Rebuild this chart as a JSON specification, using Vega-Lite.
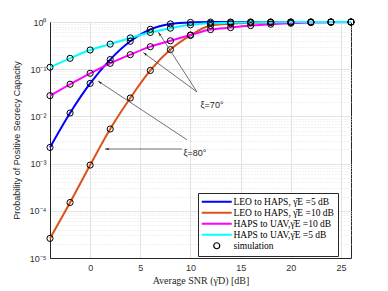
{
  "$schema": "https://vega.github.io/schema/vega-lite/v6.json",
  "width": 301,
  "height": 236,
  "autosize": "none",
  "padding": {"left": 50, "top": 22, "right": 37, "bottom": 33},
  "background": "white",
  "config": {
    "view": {"stroke": "#262626", "strokeWidth": 1},
    "font": "Liberation Sans"
  },
  "datasets": {
    "curves": [
      {"x": -4, "series": "LEO to HAPS, γ̄E =5 dB", "p": 0.0022},
      {"x": -2, "series": "LEO to HAPS, γ̄E =5 dB", "p": 0.0118},
      {"x": 0, "series": "LEO to HAPS, γ̄E =5 dB", "p": 0.05},
      {"x": 2, "series": "LEO to HAPS, γ̄E =5 dB", "p": 0.16},
      {"x": 4, "series": "LEO to HAPS, γ̄E =5 dB", "p": 0.39},
      {"x": 6, "series": "LEO to HAPS, γ̄E =5 dB", "p": 0.7},
      {"x": 8, "series": "LEO to HAPS, γ̄E =5 dB", "p": 0.91},
      {"x": 10, "series": "LEO to HAPS, γ̄E =5 dB", "p": 0.98},
      {"x": 12, "series": "LEO to HAPS, γ̄E =5 dB", "p": 0.995},
      {"x": 14, "series": "LEO to HAPS, γ̄E =5 dB", "p": 0.998},
      {"x": 16, "series": "LEO to HAPS, γ̄E =5 dB", "p": 0.999},
      {"x": 18, "series": "LEO to HAPS, γ̄E =5 dB", "p": 1},
      {"x": 20, "series": "LEO to HAPS, γ̄E =5 dB", "p": 1},
      {"x": 22, "series": "LEO to HAPS, γ̄E =5 dB", "p": 1},
      {"x": 24, "series": "LEO to HAPS, γ̄E =5 dB", "p": 1},
      {"x": 26, "series": "LEO to HAPS, γ̄E =5 dB", "p": 1},
      {"x": -4, "series": "LEO to HAPS, γ̄E =10 dB", "p": 0.000026},
      {"x": -2, "series": "LEO to HAPS, γ̄E =10 dB", "p": 0.00015},
      {"x": 0, "series": "LEO to HAPS, γ̄E =10 dB", "p": 0.00093},
      {"x": 2, "series": "LEO to HAPS, γ̄E =10 dB", "p": 0.0054},
      {"x": 4, "series": "LEO to HAPS, γ̄E =10 dB", "p": 0.0245},
      {"x": 6, "series": "LEO to HAPS, γ̄E =10 dB", "p": 0.094},
      {"x": 8, "series": "LEO to HAPS, γ̄E =10 dB", "p": 0.26},
      {"x": 10, "series": "LEO to HAPS, γ̄E =10 dB", "p": 0.52},
      {"x": 12, "series": "LEO to HAPS, γ̄E =10 dB", "p": 0.84},
      {"x": 14, "series": "LEO to HAPS, γ̄E =10 dB", "p": 0.92},
      {"x": 16, "series": "LEO to HAPS, γ̄E =10 dB", "p": 0.96},
      {"x": 18, "series": "LEO to HAPS, γ̄E =10 dB", "p": 0.98},
      {"x": 20, "series": "LEO to HAPS, γ̄E =10 dB", "p": 0.99},
      {"x": 22, "series": "LEO to HAPS, γ̄E =10 dB", "p": 0.995},
      {"x": 24, "series": "LEO to HAPS, γ̄E =10 dB", "p": 0.998},
      {"x": 26, "series": "LEO to HAPS, γ̄E =10 dB", "p": 1},
      {"x": -4, "series": "HAPS to UAV,γ̄E =10 dB", "p": 0.0275},
      {"x": -2, "series": "HAPS to UAV,γ̄E =10 dB", "p": 0.048},
      {"x": 0, "series": "HAPS to UAV,γ̄E =10 dB", "p": 0.082},
      {"x": 2, "series": "HAPS to UAV,γ̄E =10 dB", "p": 0.133},
      {"x": 4, "series": "HAPS to UAV,γ̄E =10 dB", "p": 0.203},
      {"x": 6, "series": "HAPS to UAV,γ̄E =10 dB", "p": 0.3},
      {"x": 8, "series": "HAPS to UAV,γ̄E =10 dB", "p": 0.4},
      {"x": 10, "series": "HAPS to UAV,γ̄E =10 dB", "p": 0.53},
      {"x": 12, "series": "HAPS to UAV,γ̄E =10 dB", "p": 0.69},
      {"x": 14, "series": "HAPS to UAV,γ̄E =10 dB", "p": 0.76},
      {"x": 16, "series": "HAPS to UAV,γ̄E =10 dB", "p": 0.84},
      {"x": 18, "series": "HAPS to UAV,γ̄E =10 dB", "p": 0.9},
      {"x": 20, "series": "HAPS to UAV,γ̄E =10 dB", "p": 0.94},
      {"x": 22, "series": "HAPS to UAV,γ̄E =10 dB", "p": 0.97},
      {"x": 24, "series": "HAPS to UAV,γ̄E =10 dB", "p": 0.985},
      {"x": 26, "series": "HAPS to UAV,γ̄E =10 dB", "p": 0.993},
      {"x": -4, "series": "HAPS to UAV,γ̄E =5 dB", "p": 0.11},
      {"x": -2, "series": "HAPS to UAV,γ̄E =5 dB", "p": 0.17},
      {"x": 0, "series": "HAPS to UAV,γ̄E =5 dB", "p": 0.255},
      {"x": 2, "series": "HAPS to UAV,γ̄E =5 dB", "p": 0.34},
      {"x": 4, "series": "HAPS to UAV,γ̄E =5 dB", "p": 0.46},
      {"x": 6, "series": "HAPS to UAV,γ̄E =5 dB", "p": 0.6},
      {"x": 8, "series": "HAPS to UAV,γ̄E =5 dB", "p": 0.74},
      {"x": 10, "series": "HAPS to UAV,γ̄E =5 dB", "p": 0.87},
      {"x": 12, "series": "HAPS to UAV,γ̄E =5 dB", "p": 0.94},
      {"x": 14, "series": "HAPS to UAV,γ̄E =5 dB", "p": 0.97},
      {"x": 16, "series": "HAPS to UAV,γ̄E =5 dB", "p": 0.98},
      {"x": 18, "series": "HAPS to UAV,γ̄E =5 dB", "p": 0.99},
      {"x": 20, "series": "HAPS to UAV,γ̄E =5 dB", "p": 0.995},
      {"x": 22, "series": "HAPS to UAV,γ̄E =5 dB", "p": 1},
      {"x": 24, "series": "HAPS to UAV,γ̄E =5 dB", "p": 1},
      {"x": 26, "series": "HAPS to UAV,γ̄E =5 dB", "p": 1}
    ],
    "arrows": [
      {"id": "a70", "x": 10.65, "p": 0.0329, "x2": 6.8, "p2": 0.61},
      {"id": "b70", "x": 10.65, "p": 0.0329, "x2": 5.3, "p2": 0.225},
      {"id": "a80", "x": 9.65, "p": 0.0032, "x2": 0.78, "p2": 0.0563},
      {"id": "b80", "x": 9.15, "p": 0.00204, "x2": 1.48, "p2": 0.00204}
    ],
    "labels": [
      {"label": "ξ=70°", "x": 12.15, "p": 0.0175},
      {"label": "ξ=80°", "x": 10.45, "p": 0.00168}
    ]
  },
  "layer": [
    {
      "data": {"name": "curves"},
      "mark": {"type": "line", "strokeWidth": 2, "interpolate": "monotone", "clip": false},
      "encoding": {
        "x": {
          "field": "x", "type": "quantitative",
          "scale": {"domain": [-4, 26], "nice": false, "zero": false},
          "axis": {
            "values": [0, 5, 10, 15, 20, 25],
            "title": "Average SNR (γ̄D) [dB]",
            "titleFont": "Liberation Serif", "titleFontSize": 10, "titleFontWeight": "normal", "titleColor": "#262626",
            "labelFont": "Liberation Sans", "labelFontSize": 9, "labelColor": "#333333",
            "domainColor": "#262626", "ticks": false, "labelPadding": 5, "titlePadding": 3,
            "grid": true, "gridColor": "#e2e2e2"
          }
        },
        "y": {
          "field": "p", "type": "quantitative",
          "scale": {"type": "log", "domain": [0.00001, 1], "nice": false},
          "axis": {
            "values": [0.00001, 0.00002, 0.00003, 0.00004, 0.00005, 0.00006, 0.00007, 0.00008, 0.00009,
                       0.0001, 0.0002, 0.0003, 0.0004, 0.0005, 0.0006, 0.0007, 0.0008, 0.0009,
                       0.001, 0.002, 0.003, 0.004, 0.005, 0.006, 0.007, 0.008, 0.009,
                       0.01, 0.02, 0.03, 0.04, 0.05, 0.06, 0.07, 0.08, 0.09,
                       0.1, 0.2, 0.3, 0.4, 0.5, 0.6, 0.7, 0.8, 0.9, 1],
            "labelExpr": "abs(log(datum.value)/LN10 - round(log(datum.value)/LN10)) > 0.001 ? '' : (round(log(datum.value)/LN10) == 0 ? '10⁰' : '10⁻' + ['⁰','¹','²','³','⁴','⁵'][-round(log(datum.value)/LN10)])",
            "labelOverlap": false,
            "title": "Probability of Positive Secrecy Capacity",
            "titleFont": "Liberation Sans", "titleFontSize": 9, "titleFontWeight": "normal", "titleColor": "#262626",
            "labelFont": "Liberation Sans", "labelFontSize": 9, "labelColor": "#333333",
            "domainColor": "#262626", "ticks": false, "labelPadding": 4, "titlePadding": 8,
            "grid": true,
            "gridColor": "#e2e2e2",
            "gridDash": {"condition": {"test": "abs(log(datum.value)/LN10 - round(log(datum.value)/LN10)) < 0.001", "value": []}, "value": [1, 2]}
          }
        },
        "color": {
          "field": "series", "type": "nominal",
          "scale": {
            "domain": ["LEO to HAPS, γ̄E =5 dB", "LEO to HAPS, γ̄E =10 dB", "HAPS to UAV,γ̄E =10 dB", "HAPS to UAV,γ̄E =5 dB", "simulation"],
            "range": ["#0000ff", "#d95319", "#ff00ff", "#00ffff", "#000000"]
          },
          "legend": {
            "orient": "none", "legendX": 148, "legendY": 171,
            "title": null,
            "strokeColor": "#262626", "fillColor": "white", "padding": 4,
            "labelFont": "Liberation Serif", "labelFontSize": 9.5, "labelColor": "#000000",
            "rowPadding": 0, "symbolType": "stroke", "symbolSize": 900, "symbolStrokeWidth": 2,
            "symbolOffset": 10, "labelOffset": 12,
            "labelLimit": 300,
            "encode": {
              "symbols": {
                "update": {
                  "shape": {"signal": "datum.value === 'simulation' ? 'circle' : 'stroke'"},
                  "size": {"signal": "datum.value === 'simulation' ? 36 : 900"},
                  "strokeWidth": {"signal": "datum.value === 'simulation' ? 1.2 : 2"},
                  "fill": {"value": "transparent"}
                }
              }
            }
          }
        },
        "order": {"field": "x", "type": "quantitative"}
      }
    },
    {
      "data": {"name": "curves"},
      "mark": {"type": "point", "filled": false, "stroke": "#000000", "strokeWidth": 1, "size": 38, "opacity": 1, "clip": false},
      "encoding": {
        "x": {"field": "x", "type": "quantitative"},
        "y": {"field": "p", "type": "quantitative"}
      }
    },
    {
      "data": {"name": "arrows"},
      "mark": {"type": "rule", "stroke": "#4d4d4d", "strokeWidth": 0.8},
      "encoding": {
        "x": {"field": "x", "type": "quantitative"},
        "y": {"field": "p", "type": "quantitative"},
        "x2": {"field": "x2"},
        "y2": {"field": "p2"}
      }
    },
    {
      "data": {"name": "arrows"},
      "transform": [{"filter": "datum.id === 'a70'"}],
      "mark": {"type": "point", "shape": "M0,0 L-0.55,2 L0,1.5 L0.55,2 Z", "filled": true, "color": "#262626", "size": 20, "angle": 327, "opacity": 1},
      "encoding": {"x": {"field": "x2", "type": "quantitative"}, "y": {"field": "p2", "type": "quantitative"}}
    },
    {
      "data": {"name": "arrows"},
      "transform": [{"filter": "datum.id === 'b70'"}],
      "mark": {"type": "point", "shape": "M0,0 L-0.55,2 L0,1.5 L0.55,2 Z", "filled": true, "color": "#262626", "size": 20, "angle": 306.5, "opacity": 1},
      "encoding": {"x": {"field": "x2", "type": "quantitative"}, "y": {"field": "p2", "type": "quantitative"}}
    },
    {
      "data": {"name": "arrows"},
      "transform": [{"filter": "datum.id === 'a80'"}],
      "mark": {"type": "point", "shape": "M0,0 L-0.55,2 L0,1.5 L0.55,2 Z", "filled": true, "color": "#262626", "size": 20, "angle": 303.5, "opacity": 1},
      "encoding": {"x": {"field": "x2", "type": "quantitative"}, "y": {"field": "p2", "type": "quantitative"}}
    },
    {
      "data": {"name": "arrows"},
      "transform": [{"filter": "datum.id === 'b80'"}],
      "mark": {"type": "point", "shape": "M0,0 L-0.55,2 L0,1.5 L0.55,2 Z", "filled": true, "color": "#262626", "size": 20, "angle": 270, "opacity": 1},
      "encoding": {"x": {"field": "x2", "type": "quantitative"}, "y": {"field": "p2", "type": "quantitative"}}
    },
    {
      "data": {"name": "labels"},
      "mark": {"type": "text", "font": "Liberation Sans", "fontSize": 9, "color": "#262626", "align": "center", "baseline": "middle"},
      "encoding": {
        "x": {"field": "x", "type": "quantitative"},
        "y": {"field": "p", "type": "quantitative"},
        "text": {"field": "label"}
      }
    }
  ]
}
